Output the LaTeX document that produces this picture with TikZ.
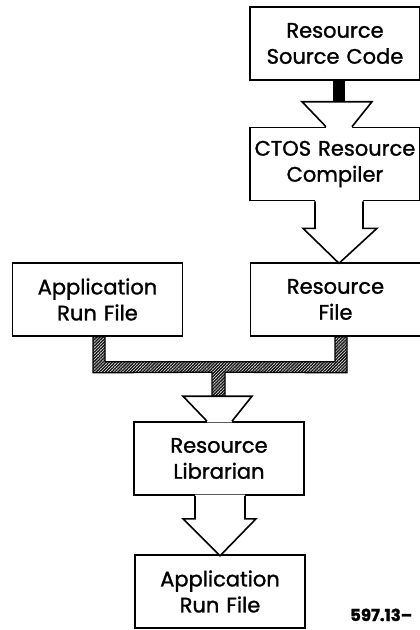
\documentclass[tikz,border=0pt]{standalone}
\usepackage{fontspec}
\setmainfont{Poppins}[FakeBold=1.3]
\newfontfamily\labelfont{Poppins}[FakeBold=1.5]
\usetikzlibrary{calc,patterns.meta}
\begin{document}
\begin{tikzpicture}[x=1pt,y=-1pt,
  box/.style={draw,line width=1.6pt,minimum width=170pt,minimum height=73pt,
    text width=168pt,align=center,inner sep=0pt,
    font=\fontsize{21}{26}\selectfont},
  outl/.style={line width=1.6pt,line join=miter},
  hatch/.style={pattern={Lines[angle=45,distance=2.2pt,line width=1.5pt]},pattern color=black!90},
]
\useasboundingbox (0,0) rectangle (420,630);
\node[box] (src)  at (335,43.5)  {Resource\\Source Code};
\node[box] (comp) at (335,164)   {CTOS Resource\\Compiler};
\node[box] (rf)   at (335.5,299.5) {Resource\\File};
\node[box] (app)  at (97.5,299.5) {Application\\Run File};
\node[box] (lib)  at (219,458.5) {Resource\\Librarian};
\node[box] (out)  at (220,591.5) {Application\\Run File};
% funnel src -> comp
\begin{scope}[shift={(comp.north)}]
  \fill[white] (-9,1.1)--(-9,0)--(-33,-25)--(37,-25)--(17,0)--(17,1.1)--cycle;
  \draw[outl] (-9,0)--(-33,-25)--(37,-25)--(17,0);
\end{scope}
\fill[black] ($(src.south)+(-2,0)$) rectangle ($(comp.north)+(10,-25)$);
% block arrow comp -> rf
\begin{scope}[shift={(comp.south)}]
  \fill[white] (-20,-1.1)--(-20,27)--(-32,27)--(4,62)--(42,27)--(28,27)--(28,-1.1)--cycle;
  \draw[outl] (-20,0)--(-20,27)--(-32,27)--(4,62)--(42,27)--(28,27)--(28,0);
\end{scope}
% hatched merge connector app, rf -> lib
\coordinate (hA) at ($(app.south)+(-4.5,0)$);
\coordinate (hB) at ($(app.south)+(-4.5,36)$);
\coordinate (hC) at ($(lib.north)+(-7,-49)$);
\coordinate (hD) at ($(lib.north)+(-7,-25)$);
\coordinate (hE) at ($(lib.north)+(6,-25)$);
\coordinate (hF) at ($(lib.north)+(6,-49)$);
\coordinate (hG) at ($(rf.south)+(11.5,36)$);
\coordinate (hH) at ($(rf.south)+(11.5,0)$);
\coordinate (hI) at ($(rf.south)+(-0.5,0)$);
\coordinate (hJ) at ($(rf.south)+(-0.5,25)$);
\coordinate (hK) at ($(app.south)+(7.5,25)$);
\coordinate (hL) at ($(app.south)+(7.5,0)$);
\fill[white] (hA)--(hB)--(hC)--(hD)--(hE)--(hF)--(hG)--(hH)--(hI)--(hJ)--(hK)--(hL)--cycle;
\path[hatch] (hA)--(hB)--(hC)--(hD)--(hE)--(hF)--(hG)--(hH)--(hI)--(hJ)--(hK)--(hL)--cycle;
\draw[line width=1.3pt] (hA)--(hB)--(hC)--(hD)--(hE)--(hF)--(hG)--(hH)--(hI)--(hJ)--(hK)--(hL)--cycle;
\begin{scope}[shift={(lib.north)}]
  \fill[white] (-12,1.1)--(-12,0)--(-36,-25)--(33,-25)--(13,0)--(13,1.1)--cycle;
  \draw[outl] (-12,0)--(-36,-25)--(33,-25)--(13,0);
\end{scope}
% block arrow lib -> out
\begin{scope}[shift={(lib.south)}]
  \fill[white] (-24,-1.1)--(-24,23)--(-36,23)--(1,60)--(37,23)--(26,23)--(26,-1.1)--cycle;
  \draw[outl] (-24,0)--(-24,23)--(-36,23)--(1,60)--(37,23)--(26,23)--(26,0);
\end{scope}
\node[anchor=base west,inner sep=0pt,font=\labelfont\fontsize{16.5}{20}\selectfont\bfseries] (fig) at (350,621) {597.13–};
\end{tikzpicture}
\end{document}
